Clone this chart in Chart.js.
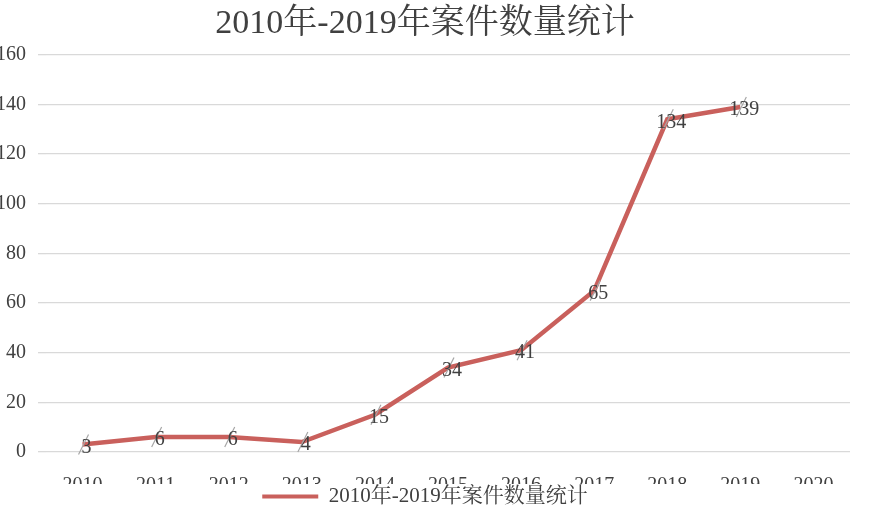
<!DOCTYPE html>
<html><head><meta charset="utf-8">
<script src="https://cdn.jsdelivr.net/npm/chart.js@4/dist/chart.umd.min.js"></script>
<style>html,body{margin:0;padding:0;background:#fff}#w{width:872px;height:517px}</style>
</head><body><div id="w"><canvas id="c"></canvas></div>
<script>
const categories = ['2010','2011','2012','2013','2014','2015','2016','2017','2018','2019','2020'];
const cases = [3,6,6,4,15,34,41,65,134,139,null];
const yTicks = [0,20,40,60,80,100,120,140,160];
const seriesName = '2010年-2019年案件数量统计';
const serif = "'Liberation Serif','Noto Serif CJK SC','Noto Sans CJK SC',serif";

const labelPlugin = {
  id:'lbl',
  afterDatasetsDraw(chart){
    const ctx = chart.ctx, meta = chart.getDatasetMeta(0);
    ctx.save();
    ctx.font = "20px " + serif;
    ctx.fillStyle = '#404040';
    ctx.textAlign = 'center'; ctx.textBaseline = 'middle';
    meta.data.forEach((p,i)=>{
      if (cases[i]==null) return;
      ctx.strokeStyle='#a6a6a6'; ctx.lineWidth=1.2;
      ctx.beginPath(); ctx.moveTo(p.x-4,p.y+10); ctx.lineTo(p.x+6,p.y-10); ctx.stroke();
      ctx.fillText(String(cases[i]), p.x+4, p.y+3);
    });
    ctx.restore();
  }
};

new Chart(document.getElementById('c'), {
  type:'line',
  data:{labels:categories, datasets:[{label:seriesName, data:cases, borderColor:'#c9605c', backgroundColor:'#c9605c', borderWidth:4.5, pointRadius:0, tension:0, spanGaps:false}]},
  plugins:[labelPlugin],
  options:{
    responsive:true, maintainAspectRatio:false, animation:false,
    layout:{padding:{left:0,right:22,top:0,bottom:0}},
    plugins:{
      title:{display:true, text:seriesName, color:'#404040', font:{family:serif,size:34,weight:'normal'}, padding:{top:4,bottom:10}},
      legend:{position:'bottom', labels:{color:'#404040', font:{family:serif,size:21}, boxWidth:56, boxHeight:4, padding:2,
        generateLabels(c){return [{text:seriesName, fillStyle:'#c9605c', strokeStyle:'#c9605c', lineWidth:0, fontColor:'#404040'}];}}},
      tooltip:{enabled:false}
    },
    scales:{
      x:{offset:true, grid:{display:false}, border:{display:false},
         ticks:{color:'#404040', font:{family:serif,size:20}, padding:14},
         afterFit(a){a.height=32;}},
      y:{min:0,max:160, border:{display:false}, grid:{color:'#d9d9d9', lineWidth:1.3},
         afterBuildTicks(a){a.ticks=yTicks.map(v=>({value:v}));},
         ticks:{color:'#404040', font:{family:serif,size:20}, padding:12},
         afterFit(a){a.width=46;}}
    }
  }
});
</script></body></html>
